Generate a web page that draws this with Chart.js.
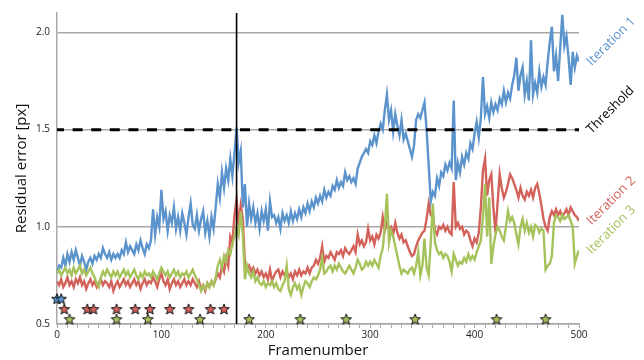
<!DOCTYPE html>
<html><head><meta charset="utf-8">
<script src="https://cdn.jsdelivr.net/npm/chart.js@4/dist/chart.umd.min.js"></script>
<style>html,body{margin:0;padding:0;background:#fff}#wrap{width:644px;height:360px;position:relative}</style>
</head><body><div id="wrap"><canvas id="c" width="644" height="360"></canvas></div>
<script>
// Frames sampled every 2 frames: 0,2,...,500
const frameStep = 2;
const iteration1 = [
0.77,0.80,0.79,0.84,0.80,0.86,0.82,0.87,0.83,0.88,
0.84,0.80,0.85,0.82,0.78,0.82,0.84,0.81,0.85,0.83,
0.86,0.84,0.89,0.86,0.84,0.87,0.83,0.86,0.84,0.86,
0.84,0.88,0.86,0.92,0.87,0.90,0.88,0.86,0.91,0.88,
0.93,0.89,0.86,0.91,0.89,0.93,1.09,0.96,1.05,1.00,
1.19,1.04,1.08,0.98,1.06,1.02,1.10,0.99,1.05,0.98,
1.07,1.02,0.96,1.05,1.12,1.01,0.99,1.06,0.98,1.04,
1.08,0.97,1.03,0.95,1.05,0.99,1.10,1.22,1.15,1.28,
1.20,1.30,1.24,1.35,1.26,1.38,1.51,1.33,1.39,1.10,
1.22,1.00,1.12,1.04,1.10,1.02,1.07,0.99,1.08,1.03,
1.09,0.98,1.13,1.05,1.06,1.02,1.05,0.99,1.07,1.03,
1.06,1.02,1.08,1.03,1.07,1.04,1.09,1.05,1.10,1.07,
1.12,1.08,1.13,1.10,1.15,1.12,1.16,1.13,1.19,1.15,
1.18,1.16,1.21,1.19,1.24,1.20,1.23,1.21,1.28,1.24,
1.26,1.23,1.25,1.22,1.30,1.33,1.36,1.38,1.40,1.38,
1.44,1.42,1.47,1.43,1.49,1.53,1.50,1.60,1.68,1.55,
1.60,1.49,1.58,1.52,1.47,1.55,1.45,1.48,1.44,1.40,
1.36,1.42,1.55,1.58,1.56,1.60,1.64,1.50,1.32,1.13,
1.18,1.16,1.25,1.21,1.28,1.26,1.32,1.29,1.33,1.30,
1.65,1.24,1.33,1.28,1.36,1.32,1.38,1.35,1.43,1.40,
1.48,1.54,1.46,1.56,1.77,1.58,1.62,1.56,1.64,1.59,
1.63,1.60,1.66,1.63,1.70,1.64,1.69,1.66,1.73,1.78,
1.87,1.70,1.78,1.82,1.68,1.75,1.65,1.96,1.68,1.74,
1.69,1.80,1.72,1.77,1.73,1.85,1.95,2.03,1.80,1.88,
1.75,1.92,2.09,1.93,1.98,1.87,1.73,1.90,1.82,1.88,
1.85];
const iteration2 = [
0.72,0.70,0.73,0.69,0.71,0.74,0.70,0.72,0.69,0.73,
0.71,0.74,0.70,0.72,0.68,0.71,0.73,0.70,0.72,0.69,
0.71,0.73,0.70,0.72,0.71,0.69,0.72,0.67,0.70,0.72,
0.69,0.71,0.73,0.70,0.72,0.69,0.71,0.73,0.70,0.72,
0.68,0.71,0.73,0.70,0.72,0.71,0.74,0.72,0.69,0.73,
0.76,0.72,0.70,0.73,0.68,0.71,0.73,0.70,0.72,0.69,
0.71,0.73,0.70,0.72,0.70,0.73,0.71,0.69,0.72,0.68,
0.70,0.67,0.71,0.69,0.72,0.70,0.73,0.76,0.74,0.80,
0.77,0.84,0.80,0.95,0.92,1.06,1.14,1.01,1.11,1.04,
0.81,0.78,0.80,0.77,0.79,0.76,0.78,0.75,0.77,0.74,
0.76,0.73,0.78,0.72,0.75,0.77,0.78,0.74,0.77,0.75,
0.77,0.74,0.76,0.73,0.77,0.75,0.78,0.75,0.77,0.76,
0.79,0.76,0.79,0.80,0.83,0.81,0.84,0.90,0.82,0.85,
0.84,0.87,0.85,0.83,0.87,0.86,0.88,0.85,0.89,0.87,
0.86,0.88,0.90,0.87,0.96,0.91,0.93,0.90,0.92,0.99,
0.93,0.95,0.91,0.96,0.94,0.97,1.05,0.98,1.02,0.99,
1.00,0.96,1.02,0.97,0.94,0.96,0.92,0.93,0.90,0.87,
0.85,0.86,0.90,0.93,0.95,0.97,0.98,1.04,1.12,1.06,
1.05,0.98,0.96,1.00,0.99,1.01,0.98,1.00,0.97,0.96,
1.23,1.00,1.02,0.99,1.00,0.96,0.98,0.97,0.93,0.90,
0.94,0.92,0.97,1.10,1.29,1.35,1.16,1.24,1.27,1.10,
0.97,1.12,1.27,1.20,1.15,1.18,1.22,1.27,1.25,1.22,
1.19,1.15,1.20,1.16,1.14,1.18,1.16,1.19,1.15,1.20,
1.22,1.17,1.11,1.04,1.00,0.98,1.05,1.08,1.06,1.09,
1.06,1.08,1.05,1.07,1.09,1.06,1.10,1.08,1.06,1.05,
1.03];
const iteration3 = [
0.76,0.78,0.75,0.77,0.79,0.76,0.78,0.75,0.79,0.76,
0.78,0.80,0.76,0.78,0.75,0.77,0.79,0.76,0.74,0.71,
0.69,0.74,0.77,0.75,0.78,0.76,0.74,0.77,0.75,0.77,
0.74,0.76,0.78,0.75,0.77,0.74,0.76,0.78,0.75,0.73,
0.76,0.74,0.77,0.75,0.76,0.74,0.77,0.75,0.73,0.76,
0.79,0.77,0.75,0.77,0.74,0.76,0.78,0.75,0.77,0.74,
0.76,0.75,0.77,0.74,0.76,0.78,0.75,0.73,0.70,0.67,
0.70,0.68,0.71,0.69,0.72,0.70,0.74,0.80,0.83,0.79,
0.85,0.82,0.88,0.86,0.91,0.95,1.00,0.96,1.08,0.96,
0.73,0.80,0.76,0.74,0.77,0.72,0.74,0.71,0.70,0.72,
0.69,0.71,0.70,0.72,0.69,0.71,0.68,0.67,0.70,0.72,
0.80,0.68,0.65,0.69,0.71,0.68,0.70,0.65,0.69,0.72,
0.71,0.69,0.72,0.74,0.73,0.75,0.78,0.84,0.76,0.77,
0.79,0.80,0.77,0.80,0.78,0.81,0.79,0.77,0.76,0.78,
0.80,0.78,0.76,0.79,0.83,0.81,0.78,0.79,0.82,0.80,
0.82,0.80,0.83,0.81,0.79,0.85,0.89,1.00,1.17,0.92,
0.98,0.95,0.90,0.85,0.80,0.76,0.78,0.77,0.76,0.78,
0.79,0.76,0.80,0.87,0.75,0.80,0.94,0.79,0.75,0.92,
1.12,0.92,0.88,0.86,0.87,0.84,0.86,0.85,0.82,0.77,
0.86,0.83,0.80,0.82,0.81,0.84,0.82,0.86,0.83,0.85,
0.83,0.87,0.90,0.93,1.05,1.22,0.95,1.15,0.81,0.90,
0.96,1.00,0.98,0.95,0.93,1.00,1.08,1.03,1.05,1.02,
0.96,0.91,1.00,1.04,0.98,1.02,0.97,1.00,0.95,1.01,
1.00,0.97,0.99,0.98,0.78,0.80,0.81,0.85,1.02,1.06,
1.05,1.03,1.06,1.04,1.05,1.06,1.03,1.00,0.81,0.85,
0.88];
const thresholdValue = 1.5;
const markerFrame = 172;
const starFrames1 = [0, 4];
const starFrames2 = [7, 29, 35, 57, 75, 89, 108, 126, 147, 160];
const starFrames3 = [12, 57, 87, 137, 184, 233, 277, 343, 421, 468];
const starLevels = [0.63, 0.577, 0.525];
const yTickValues = [0.5, 1.0, 1.5, 2.0];
const xRange = [0, 500];
const yRange = [0.5, 2.1];
const seriesNames = ['Iteration 1', 'Iteration 2', 'Iteration 3'];
const thresholdName = 'Threshold';

const C1 = '#5b93cd', C2 = '#d3625a', C3 = '#a6c35b';
const GRID = '#a8a8a8';
const FONT = "'Open Sans', 'Noto Sans', sans-serif";

const toXY = arr => arr.map((v, i) => ({x: i * frameStep, y: v}));
const stars = (frames, lvl) => frames.map(f => ({x: f, y: lvl}));

function starCanvas(fill) {
  const s = 14, c = document.createElement('canvas');
  c.width = c.height = s;
  const g = c.getContext('2d');
  const cx = s / 2, cy = s / 2 + 0.5, R = 5.6, r = 2.4;
  g.beginPath();
  for (let i = 0; i < 10; i++) {
    const a = -Math.PI / 2 + i * Math.PI / 5, rad = i % 2 ? r : R;
    g.lineTo(cx + rad * Math.cos(a), cy + rad * Math.sin(a));
  }
  g.closePath();
  g.fillStyle = fill; g.fill();
  g.lineWidth = 1; g.strokeStyle = '#111'; g.stroke();
  return c;
}

const labelPlugin = {
  id: 'endLabels',
  afterDatasetsDraw(chart) {
    const {ctx, chartArea, scales: {y}} = chart;
    const items = [
      [seriesNames[0], iteration1[iteration1.length - 1], C1],
      [thresholdName, thresholdValue, '#000'],
      [seriesNames[1], iteration2[iteration2.length - 1], C2],
      [seriesNames[2], iteration3[iteration3.length - 1], C3]
    ];
    ctx.save();
    ctx.font = "13px " + FONT;
    ctx.textBaseline = 'middle';
    ctx.textAlign = 'left';
    items.forEach(([t, v, col]) => {
      const py = y.getPixelForValue(v);
      ctx.save();
      ctx.translate(chartArea.right + 10, py + 2);
      ctx.rotate(-Math.PI / 4);
      ctx.fillStyle = col;
      ctx.fillText(t, 0, 0);
      ctx.restore();
    });
    ctx.restore();
  }
};

const lineDs = (label, data, color, order) => ({
  label, data: toXY(data), borderColor: color, borderWidth: 2.4,
  pointRadius: 0, tension: 0, fill: false, order
});
const starDs = (frames, lvl, fill) => ({
  data: stars(frames, lvl), showLine: false, pointStyle: starCanvas(fill),
  pointRadius: 6, clip: false, order: 0
});

new Chart(document.getElementById('c'), {
  type: 'line',
  data: {
    datasets: [
      starDs(starFrames1, starLevels[0], C1),
      starDs(starFrames2, starLevels[1], C2),
      starDs(starFrames3, starLevels[2], C3),
      {data: [{x: xRange[0], y: thresholdValue}, {x: xRange[1], y: thresholdValue}],
       borderColor: '#000', borderWidth: 3, borderDash: [10, 8.6], borderDashOffset: 3,
       pointRadius: 0, order: 1},
      {data: [{x: markerFrame, y: yRange[0]}, {x: markerFrame, y: yRange[1]}],
       borderColor: '#000', borderWidth: 1.6, pointRadius: 0, order: 2},
      lineDs(seriesNames[2], iteration3, C3, 3),
      lineDs(seriesNames[1], iteration2, C2, 4),
      lineDs(seriesNames[0], iteration1, C1, 5)
    ]
  },
  options: {
    responsive: false, animation: false, devicePixelRatio: 1,
    layout: {padding: {top: 9, right: 65, left: 0, bottom: 0}},
    plugins: {legend: {display: false}, tooltip: {enabled: false}},
    scales: {
      x: {
        type: 'linear', min: xRange[0], max: xRange[1],
        ticks: {stepSize: 10, autoSkip: false, maxRotation: 0, padding: 1,
          color: '#222', font: {family: FONT, size: 10},
          callback: v => (v % 100 === 0 ? String(v) : '')},
        grid: {display: true, drawOnChartArea: false, drawTicks: true, tickLength: 4,
          color: GRID, tickColor: GRID, lineWidth: 1},
        border: {display: true, color: GRID, width: 1.5},
        title: {display: true, text: 'Framenumber', color: '#111',
          font: {family: FONT, size: 15}, padding: {top: 1, bottom: 0}},
        afterFit: s => { s.height = 36; }
      },
      y: {
        min: yRange[0], max: yRange[1],
        afterBuildTicks: s => { s.ticks = yTickValues.map(v => ({value: v})); },
        ticks: {padding: 7, color: '#222', font: {family: FONT, size: 10},
          callback: v => Number(v).toFixed(1)},
        grid: {color: GRID, lineWidth: 1.5, drawTicks: false},
        border: {display: true, color: GRID, width: 1.5},
        title: {display: true, text: 'Residual error [px]', color: '#111',
          font: {family: FONT, size: 15}, padding: {top: 13, bottom: 0}},
        afterFit: s => { s.width = 57; }
      }
    }
  },
  plugins: [labelPlugin]
});
</script>
</body></html>
